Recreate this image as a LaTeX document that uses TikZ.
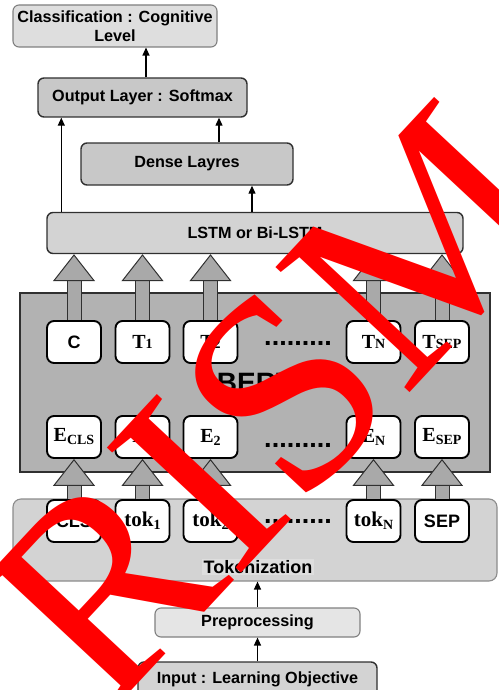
\documentclass[tikz,border=0pt]{standalone}
\usepackage{fontspec}
\setmainfont{Liberation Sans}
\newfontfamily\tokfont{Liberation Serif}
\usetikzlibrary{arrows.meta,positioning}
\definecolor{linedark}{HTML}{303030}
\definecolor{boxgray}{HTML}{C8C8C8}
\definecolor{palegray}{HTML}{DEDEDE}
\definecolor{bertgray}{HTML}{B2B2B2}
\definecolor{arrgray}{HTML}{A9A9A9}
\definecolor{tokgray}{HTML}{D3D3D3}
\definecolor{wmred}{HTML}{FF0000}
\newcommand\tsub[1]{\raisebox{-3pt}{\fontsize{14}{14}\selectfont #1}}
\newcommand\tsml[1]{{\fontsize{14}{14}\selectfont #1}}

\begin{document}
\begin{tikzpicture}[x=1pt,y=-1pt,
          blk/.style={draw=linedark,line width=1.4pt,rounded corners=6pt,fill=boxgray,inner sep=0pt,
                      font=\fontsize{16.2}{19}\selectfont\bfseries},
          pale/.style={blk,draw=gray,line width=1.1pt,fill=palegray},
          tbox/.style={draw=black,line width=1.9pt,rounded corners=7pt,fill=white,inner sep=0pt,
                       minimum width=54pt,minimum height=42pt,font=\fontsize{18}{18}\selectfont\bfseries},
          tlbl/.style={tbox,font=\fontsize{20}{20}\selectfont\tokfont\bfseries},
          dots/.style={anchor=base,inner sep=0pt,font=\fontsize{27}{27}\selectfont\bfseries},
          arr/.style={draw=black,line width=1.2pt,-{Triangle[width=7pt,length=8pt]}},
          fatarr/.style={draw=linedark,line width=1pt,double=arrgray,double distance=13pt,
                         -{Triangle[width=42pt,length=27pt,fill=arrgray]}}]
        \useasboundingbox (0,0) rectangle (498,690);
        % upper layers
        \node[pale,minimum width=204pt,minimum height=42pt,align=center] (cls) at (115,26) {Classification : Cognitive\\Level};
        \node[blk,minimum width=209pt,minimum height=39pt] (outl) at (142.5,97.5) {Output Layer : Softmax};
        \node[blk,minimum width=212pt,minimum height=42pt] (dense) at (187,164) {Dense Layres};
        \node[blk,fill=tokgray,minimum width=416pt,minimum height=41pt] (lstm) at (255,233) {LSTM or Bi-LSTM};
        \draw[arr] ([xshift=3.5pt]outl.north) -- ([xshift=3.5pt]outl.north |- cls.south);
        \draw[arr] ([xshift=15pt]lstm.north west) -- ([xshift=15pt]lstm.north west |- outl.south);
        \draw[arr] ([xshift=32pt]dense.north) -- ([xshift=32pt]dense.north |- outl.south);
        \draw[arr] ([xshift=-3pt]lstm.north) -- ([xshift=-3pt]lstm.north |- dense.south);
        % BERT block
        \node[draw=linedark,line width=1.2pt,fill=bertgray,minimum width=470pt,minimum height=179pt,
              font=\fontsize{28}{30}\selectfont\bfseries] (bert) at (255,382.5) {BERT};
        \node[tbox]  (c)    at (74,342)    {C};
        \node[tlbl]  (t1)   at (142.5,342) {T\tsml{1}};
        \node[tlbl]  (t2)   at (210.5,342) {T\tsml{2}};
        \node[tlbl]  (tn)   at (373.5,342) {T\tsml{N}};
        \node[tlbl]  (tsep) at (442,342)   {T\tsml{SEP}};
        \node[dots]  (d1)   at (298,345)   {.........};
        \node[tlbl]  (ecls) at (74,437)    {E\tsub{CLS}};
        \node[tlbl]  (e1)   at (142.5,437) {E\tsub{1}};
        \node[tlbl]  (e2)   at (210.5,437) {E\tsub{2}};
        \node[tlbl]  (en)   at (373.5,437) {E\tsub{N}};
        \node[tlbl]  (esep) at (442,437)   {E\tsub{SEP}};
        \node[dots]  (d2)   at (298,447)   {.........};
        \draw[fatarr] (c.north) -- (c.north |- lstm.south);
        \draw[fatarr] (t1.north) -- (t1.north |- lstm.south);
        \draw[fatarr] (t2.north) -- (t2.north |- lstm.south);
        \draw[fatarr] (tn.north) -- (tn.north |- lstm.south);
        \draw[fatarr] (tsep.north) -- (tsep.north |- lstm.south);
        % tokens
        \node[blk,draw=gray!90,line width=1.1pt,rounded corners=8pt,fill=tokgray,minimum width=484pt,minimum height=82pt] (tokz) at (255,540) {};
        \node[fill=palegray,inner sep=1.5pt,font=\fontsize{18}{18}\selectfont\bfseries] (toklbl) at (258,567) {Tokenization};
        \node[tbox]  (tcls) at (74,521)    {CLS};
        \node[tlbl,font=\fontsize{21}{21}\selectfont\tokfont\bfseries] (tok1) at (142.5,521) {tok\tsub{1}};
        \node[tlbl,font=\fontsize{21}{21}\selectfont\tokfont\bfseries] (tok2) at (210.5,521) {tok\tsub{2}};
        \node[tlbl,font=\fontsize{21}{21}\selectfont\tokfont\bfseries] (tokn) at (373.5,521) {tok\tsub{N}};
        \node[tbox]  (sep)  at (442,521)   {SEP};
        \node[dots]  (d3)   at (298,523)   {.........};
        \draw[fatarr] (tcls.north) -- (ecls.south);
        \draw[fatarr] (tok1.north) -- (e1.south);
        \draw[fatarr] (tok2.north) -- (e2.south);
        \draw[fatarr] (tokn.north) -- (en.south);
        \draw[fatarr] (sep.north) -- (esep.south);
        % input side
        \node[pale,fill=palegray!80,minimum width=205pt,minimum height=29pt] (pre) at (257.5,622.5) {Preprocessing};
        \node[blk,fill=tokgray,minimum width=239pt,minimum height=34pt] (inp) at (257.5,679) {Input : Learning Objective};
        \draw[arr] (pre.north) -- (pre.north |- tokz.south);
        \draw[arr] (inp.north) -- (pre.south);
        % watermark
        \node[text=wmred,rotate=47,inner sep=0pt,font=\fontsize{280}{280}\selectfont\tokfont] (wm) at (274,404) {RISM};
      \end{tikzpicture}
\end{document}
